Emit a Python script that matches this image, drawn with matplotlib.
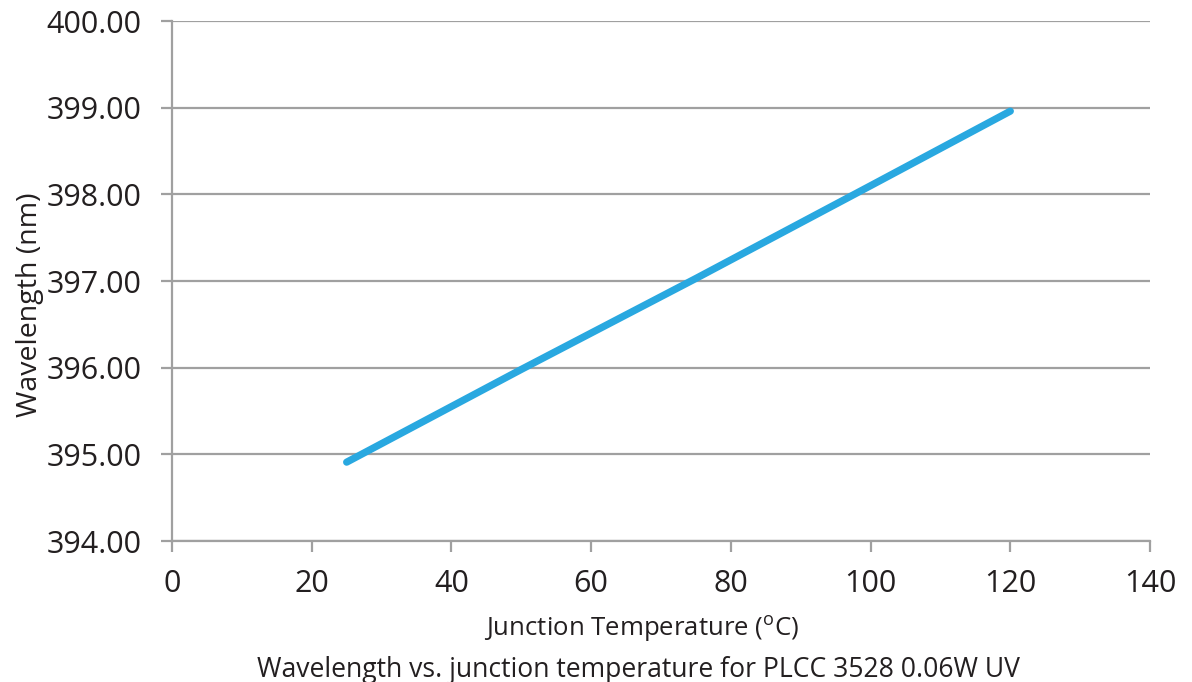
import matplotlib.pyplot as plt

# data
temps = [25, 50, 75, 100, 120]          # junction temperature, deg C
wavelength = [394.91, 395.98, 397.03, 398.10, 398.96]  # nm
x_ticks = [0, 20, 40, 60, 80, 100, 120, 140]
y_ticks = [394, 395, 396, 397, 398, 399, 400]

LINE_COLOR = '#29a8e0'
GRID_COLOR = '#a0a0a0'
TEXT_COLOR = '#231f20'

plt.rcParams['font.family'] = ['Open Sans', 'DejaVu Sans']

fig = plt.figure(figsize=(11.92, 6.82), dpi=100)
ax = fig.add_axes([0.1443, 0.2067, 0.8205, 0.7625])

ax.plot(temps, wavelength, color=LINE_COLOR, lw=5.2, solid_capstyle='round', zorder=3)

ax.set_xlim(0, 140)
ax.set_ylim(394, 400)
ax.set_xticks(x_ticks)
ax.set_yticks(y_ticks)
ax.set_yticklabels(['%.2f' % v for v in y_ticks])

ax.grid(axis='y', color=GRID_COLOR, lw=1.6)
ax.set_axisbelow(True)
for side in ['top', 'right']:
    ax.spines[side].set_visible(False)
for side in ['left', 'bottom']:
    ax.spines[side].set_color(GRID_COLOR)
    ax.spines[side].set_linewidth(1.6)

ax.tick_params(axis='y', length=8, width=1.6, color=GRID_COLOR, pad=14,
               labelsize=22, labelcolor=TEXT_COLOR)
ax.tick_params(axis='x', length=8, width=1.6, color=GRID_COLOR, pad=12,
               labelsize=22, labelcolor=TEXT_COLOR)

ax.set_xlabel('Junction Temperature ($^{\\mathregular{o}}$C)', fontsize=18.5,
              color=TEXT_COLOR, va='baseline')
ax.xaxis.set_label_coords(0.48, -0.1827)
ax.set_ylabel('Wavelength (nm)', fontsize=20.5, color=TEXT_COLOR, va='baseline')
ax.yaxis.set_label_coords(-0.138, 0.454)

fig.text(0.536, 0.007, 'Wavelength vs. junction temperature for PLCC 3528 0.06W UV',
         ha='center', va='baseline', fontsize=19.1, color=TEXT_COLOR)

fig.savefig('out.png', dpi=100)
